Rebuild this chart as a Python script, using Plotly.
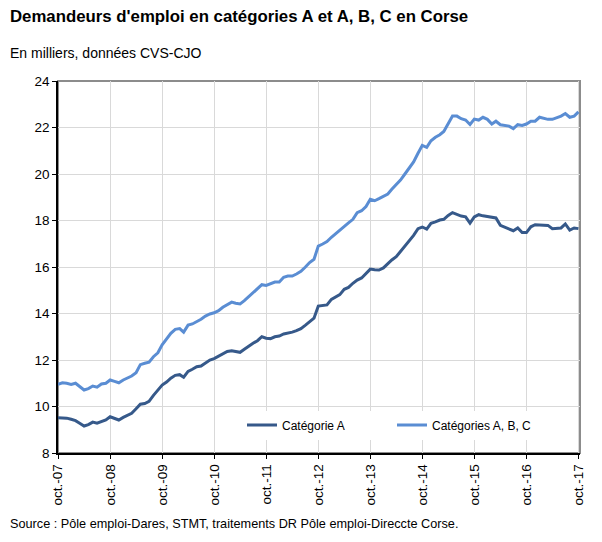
import pandas as pd
import plotly.graph_objects as go

months = pd.date_range("2007-10-01", "2017-10-01", freq="MS")

cat_a = [
    9.52, 9.52, 9.50, 9.45, 9.39, 9.28, 9.16, 9.22, 9.33, 9.28, 9.36, 9.42,
    9.56, 9.48, 9.42, 9.53, 9.62, 9.71, 9.90, 10.10, 10.13, 10.22, 10.48, 10.68,
    10.92, 11.05, 11.22, 11.34, 11.37, 11.26, 11.51, 11.60, 11.71, 11.74, 11.86, 12.00,
    12.06, 12.17, 12.26, 12.37, 12.40, 12.37, 12.33, 12.46, 12.60, 12.72, 12.83, 13.00,
    12.94, 12.92, 13.00, 13.03, 13.12, 13.15, 13.20, 13.26, 13.35, 13.49, 13.63, 13.80,
    14.32, 14.35, 14.37, 14.61, 14.72, 14.81, 15.04, 15.12, 15.30, 15.44, 15.53, 15.73,
    15.91, 15.88, 15.87, 15.96, 16.16, 16.30, 16.44, 16.67, 16.93, 17.16, 17.36, 17.65,
    17.72, 17.63, 17.88, 17.94, 18.02, 18.05, 18.22, 18.34, 18.25, 18.19, 18.16, 17.89,
    18.15, 18.25, 18.20, 18.16, 18.14, 18.11, 17.79, 17.71, 17.65, 17.56, 17.68, 17.48,
    17.48, 17.73, 17.82, 17.82, 17.79, 17.79, 17.65, 17.65, 17.68, 17.85, 17.59, 17.68,
    17.65,
]

cat_abc = [
    10.95, 11.02, 11.00, 10.95, 11.00, 10.85, 10.71, 10.77, 10.88, 10.83, 10.97, 11.00,
    11.14, 11.08, 11.02, 11.14, 11.23, 11.31, 11.45, 11.80, 11.86, 11.91, 12.14, 12.31,
    12.65, 12.90, 13.15, 13.32, 13.35, 13.20, 13.50, 13.55, 13.65, 13.75, 13.89, 13.98,
    14.03, 14.12, 14.27, 14.38, 14.49, 14.44, 14.41, 14.55, 14.72, 14.87, 15.04, 15.24,
    15.21, 15.28, 15.35, 15.35, 15.56, 15.61, 15.61, 15.70, 15.81, 15.99, 16.19, 16.33,
    16.90, 16.99, 17.09, 17.28, 17.45, 17.56, 17.76, 17.90, 18.05, 18.34, 18.42, 18.60,
    18.91, 18.85, 18.94, 19.03, 19.14, 19.34, 19.54, 19.74, 20.00, 20.26, 20.52, 20.89,
    21.23, 21.15, 21.43, 21.58, 21.69, 21.83, 22.15, 22.49, 22.49, 22.38, 22.32, 22.13,
    22.36, 22.32, 22.44, 22.35, 22.15, 22.27, 22.12, 22.09, 22.06, 21.95, 22.12, 22.09,
    22.15, 22.27, 22.27, 22.44, 22.38, 22.35, 22.35, 22.41, 22.49, 22.60, 22.44, 22.49,
    22.67,
]

tick_dates = pd.date_range("2007-10-01", "2017-10-01", freq="12MS")
tick_labels = ["oct.-07", "oct.-08", "oct.-09", "oct.-10", "oct.-11", "oct.-12",
               "oct.-13", "oct.-14", "oct.-15", "oct.-16", "oct.-17"]
y_ticks = [8, 10, 12, 14, 16, 18, 20, 22, 24]

FONT = "Liberation Sans, Arial, sans-serif"
PW, PH = 522, 372

fig = go.Figure()
fig.add_trace(go.Scatter(
    x=months, y=cat_a, mode="lines", name="Catégorie A",
    line=dict(color="#36598A", width=3),
))
fig.add_trace(go.Scatter(
    x=months, y=cat_abc, mode="lines", name="Catégories A, B, C",
    line=dict(color="#5A8DD3", width=3),
))

fig.update_layout(
    width=602, height=542,
    margin=dict(l=58, r=22, t=81, b=89),
    paper_bgcolor="white", plot_bgcolor="white",
    font=dict(family=FONT, size=13, color="black"),
    showlegend=True,
    legend=dict(
        orientation="h", x=(242 - 58) / PW, y=28 / PH, xanchor="left", yanchor="middle",
        bgcolor="white", font=dict(size=12, color="black"),
        entrywidth=105, entrywidthmode="pixels",
        itemwidth=30, tracegroupgap=0,
    ),
    annotations=[
        dict(text="<b>Demandeurs d'emploi en catégories A et A, B, C en Corse</b>",
             xref="paper", yref="paper", x=-50 / PW, y=1 + (81 - 17) / PH,
             xanchor="left", yanchor="middle", showarrow=False,
             font=dict(size=16.8, color="black", family=FONT)),
        dict(text="En milliers, données CVS-CJO",
             xref="paper", yref="paper", x=-50 / PW, y=1 + (81 - 53) / PH,
             xanchor="left", yanchor="middle", showarrow=False,
             font=dict(size=14, color="black", family=FONT)),
        dict(text="Source : Pôle emploi-Dares, STMT, traitements DR Pôle emploi-Direccte Corse.",
             xref="paper", yref="paper", x=-50 / PW, y=-(524 - 453) / PH,
             xanchor="left", yanchor="middle", showarrow=False,
             font=dict(size=12.7, color="black", family=FONT)),
    ],
    shapes=[
        dict(type="rect", xref="paper", yref="paper", x0=0, x1=1, y0=0, y1=1,
             line=dict(color="#8C8C8C", width=2), layer="below"),
    ],
)

fig.update_xaxes(
    range=[pd.Timestamp("2007-10-01"), pd.Timestamp("2017-10-12")],
    tickvals=tick_dates, ticktext=tick_labels, tickangle=-90,
    showgrid=True, gridcolor="#D9D9D9", gridwidth=1,
    showline=True, linecolor="black", linewidth=1.5,
    ticks="outside", ticklen=4, tickcolor="black",
    tickfont=dict(size=13.5, color="black"),
    zeroline=False,
)
fig.update_yaxes(
    range=[8, 24], tickvals=y_ticks,
    showgrid=True, gridcolor="#D9D9D9", gridwidth=1,
    showline=True, linecolor="black", linewidth=1.5,
    ticks="outside", ticklen=4, tickcolor="black",
    tickfont=dict(size=13.5, color="black"),
    zeroline=False,
)

fig.write_html("out.html")
